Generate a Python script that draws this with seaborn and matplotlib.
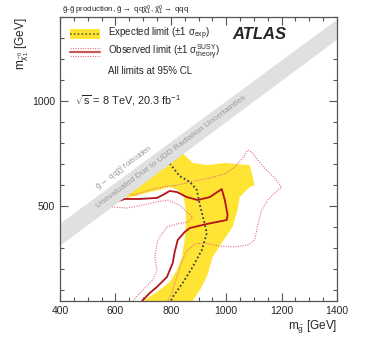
import numpy as np
import pandas as pd
import seaborn as sns
import matplotlib.pyplot as plt
from matplotlib.ticker import MultipleLocator, FixedLocator

# contour points (m_gluino, m_neutralino) in GeV
exp_x = [796, 832, 869, 894, 905, 919, 930, 912, 879, 843, 807, 800]
exp_y = [704, 644, 616, 578, 506, 435, 373, 292, 212, 136, 69, 50]

# yellow band: +1 sigma_exp (outer) then -1 sigma_exp (inner)
band_out_x = [879, 905, 930, 951, 984, 1023, 1041, 1049, 1085, 1103, 1085, 1038, 995, 930, 879, 843, 818, 720, 620]
band_out_y = [50, 102, 164, 259, 326, 402, 483, 544, 592, 601, 696, 701, 706, 696, 706, 753, 790, 690, 560]
band_in_x = [641, 670, 724, 760, 796, 825, 847, 854, 854, 850, 840, 822, 796, 750, 699]
band_in_y = [540, 549, 568, 578, 592, 578, 540, 482, 411, 340, 259, 197, 140, 93, 50]

obs_x = [600, 634, 688, 750, 771, 796, 822, 858, 897, 941, 984, 995, 1005, 1002,
         930, 869, 850, 825, 814, 807, 786, 750, 724, 696]
obs_y = [520, 535, 535, 540, 554, 573, 568, 544, 530, 544, 582, 530, 459, 435,
         416, 397, 378, 340, 283, 231, 164, 117, 88, 50]

obs_up_x = [650, 670, 724, 771, 822, 869, 941, 995, 1031, 1060, 1078, 1092, 1114, 1139, 1175, 1200,
            1175, 1150, 1128, 1114, 1103, 1078, 1031, 977, 923, 887, 854, 836, 818, 804, 789]
obs_up_y = [560, 554, 578, 592, 601, 616, 635, 654, 687, 730, 768, 758, 720, 682, 635, 592,
            563, 530, 482, 411, 340, 316, 307, 311, 326, 321, 283, 221, 150, 88, 50]

obs_dn_x = [530, 544, 591, 641, 699, 750, 789, 832, 858, 879, 861, 822, 786, 753, 742, 750, 735, 699, 663]
obs_dn_y = [470, 482, 497, 492, 506, 521, 530, 506, 473, 449, 425, 416, 402, 340, 259, 197, 150, 102, 50]

# "forbidden" / unevaluated diagonal strip
strip_x = [400, 1400]
strip_lo = [316, 1296]
strip_hi = [421, 1391]

x_ticks = [400, 600, 800, 1000, 1200, 1400]
y_ticks = [500, 1000]

sns.set_style("ticks")
plt.rcParams['font.family'] = ['Liberation Sans', 'DejaVu Sans']
plt.rcParams['mathtext.fontset'] = 'custom'
plt.rcParams['mathtext.rm'] = 'Liberation Sans'
plt.rcParams['mathtext.it'] = 'Liberation Sans'
plt.rcParams['mathtext.bf'] = 'Liberation Sans:bold'

fig = plt.figure(figsize=(3.74, 3.59), dpi=100)
ax = fig.add_axes([60/374, 58/359, 277/374, 284/359])

yellow = '#ffe433'
red = '#b3121c'
pink = '#e2707a'
dark = '#34404c'

ax.fill(band_out_x + band_in_x, band_out_y + band_in_y, color=yellow, lw=0, zorder=1)

sns.lineplot(x=obs_up_x, y=obs_up_y, sort=False, estimator=None, ax=ax,
             color=pink, lw=0.8, linestyle=(0, (1, 1.2)), zorder=2)
sns.lineplot(x=obs_dn_x, y=obs_dn_y, sort=False, estimator=None, ax=ax,
             color=pink, lw=0.8, linestyle=(0, (1, 1.2)), zorder=2)
sns.lineplot(x=exp_x, y=exp_y, sort=False, estimator=None, ax=ax,
             color=dark, lw=1.3, linestyle=(0, (1, 1.3)), zorder=3)
sns.lineplot(x=obs_x, y=obs_y, sort=False, estimator=None, ax=ax,
             color=red, lw=1.3, zorder=4)

ax.fill_between(strip_x, strip_lo, strip_hi, color='#e0e0e0', lw=0, zorder=5)

ax.set_xlim(400, 1400)
ax.set_ylim(50, 1400)
ax.xaxis.set_major_locator(FixedLocator(x_ticks))
ax.yaxis.set_major_locator(FixedLocator(y_ticks))
ax.xaxis.set_minor_locator(MultipleLocator(50))
ax.yaxis.set_minor_locator(MultipleLocator(100))
ax.tick_params(which='both', direction='in', top=True, right=True, color='#555555',
               labelsize=7.5, width=0.8)
ax.tick_params(which='major', length=6)
ax.tick_params(which='minor', length=3)
for s in ax.spines.values():
    s.set_color('#555555')
    s.set_linewidth(0.9)
    s.set_zorder(10)

ax.set_xlabel(r'm$_{\tilde{g}}$ [GeV]', fontsize=8.5, loc='right', labelpad=2)
ax.set_ylabel(r'm$_{\tilde{\chi}^0_1}$ [GeV]', fontsize=8.5, loc='top', labelpad=1)

fig.text(62/374, 1 - 10/359, r'$\tilde{g}$-$\tilde{g}$ production, $\tilde{g}\rightarrow$ qq$\tilde{\chi}^0_1$, $\tilde{\chi}^0_1\rightarrow$ qqq',
         fontsize=5.7, va='center', ha='left')

# legend drawn by hand
T = ax.transAxes
ax.fill_between([0.036, 0.144], 0.923, 0.958, color=yellow, transform=T, lw=0, zorder=6)
ax.plot([0.036, 0.144], [0.940, 0.940], transform=T, color='#6b6020', lw=1.2,
        linestyle=(0, (1, 1.3)), zorder=7)
ax.plot([0.036, 0.144], [0.877, 0.877], transform=T, color='#c85a5a', lw=1.6, zorder=7)
for yy in (0.891, 0.863):
    ax.plot([0.036, 0.144], [yy, yy], transform=T, color=pink, lw=0.8,
            linestyle=(0, (1, 1.2)), zorder=7)
ax.text(0.173, 0.940, r'Expected limit ($\pm$1 $\sigma_{\rm exp}$)', transform=T,
        fontsize=7, va='center', zorder=7)
ax.text(0.173, 0.877, r'Observed limit ($\pm$1 $\sigma^{\rm SUSY}_{\rm theory}$)', transform=T,
        fontsize=7, va='center', zorder=7)
ax.text(0.173, 0.810, 'All limits at 95% CL', transform=T, fontsize=7, va='center', zorder=7)
ax.text(0.621, 0.937, 'ATLAS', transform=T, fontsize=12, fontweight='bold', style='italic',
        va='center', zorder=7)
ax.text(0.054, 0.704, r'$\sqrt{s}$ = 8 TeV, 20.3 fb$^{-1}$', transform=T, fontsize=7.8,
        va='center', zorder=7)

ax.text(0.400, 0.525, 'Unevaluated Due to UDD Radiation Uncertainties', transform=T,
        fontsize=6, color='#999999', rotation=36.5, ha='center', va='center', zorder=8,
        rotation_mode='anchor')
ax.text(0.232, 0.468, r'$\tilde{g}\rightarrow$ qq$\tilde{\chi}^0_1$ forbidden', transform=T,
        fontsize=5.6, color='#999999', rotation=36.5, ha='center', va='center', zorder=8,
        rotation_mode='anchor')

fig.savefig('out.png', dpi=100)
